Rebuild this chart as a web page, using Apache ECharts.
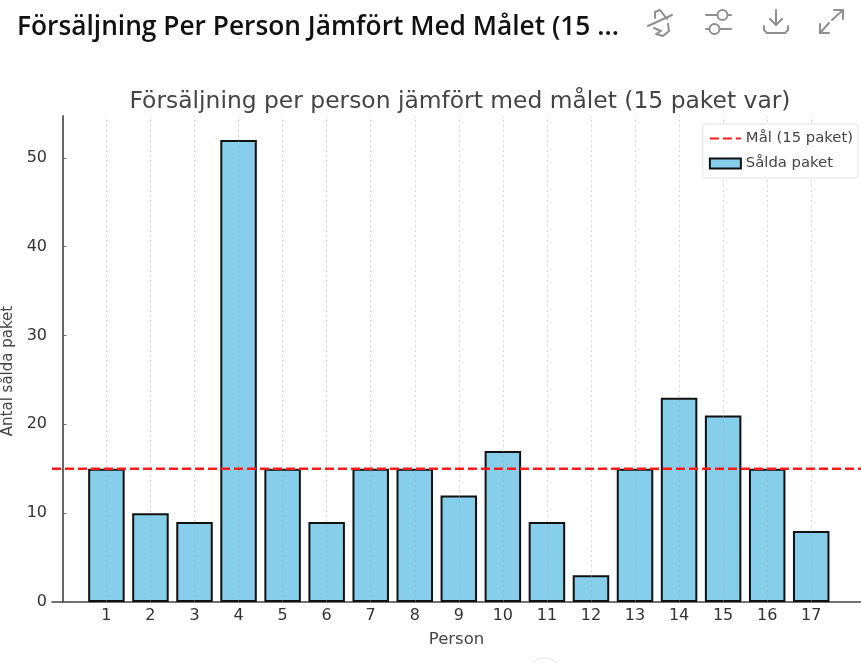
<!DOCTYPE html>
<html><head><meta charset="utf-8">
<style>html,body{margin:0;padding:0;background:#fff}#c{width:861px;height:663px}</style>
<script src="https://cdn.jsdelivr.net/npm/echarts@6/dist/echarts.min.js"></script>
</head><body><div id="c"></div>
<script>
const persons=[1,2,3,4,5,6,7,8,9,10,11,12,13,14,15,16,17];
const sold=[15,10,9,52,15,9,15,15,12,17,9,3,15,23,21,15,8];
const goal=15;
const yTicks=[0,10,20,30,40,50];
const pageTitle='Försäljning Per Person Jämfört Med Målet (15 ...';
const chartTitle='Försäljning per person jämfört med målet (15 paket var)';
const xMin=-0.235, xMax=18.13, yMax=54.7;
const F='"DejaVu Sans"';
const iconStyle={stroke:'#8f8f8f',fill:'none',lineWidth:2,lineCap:'round',lineJoin:'round'};
function pl(pts){return {type:'polyline',shape:{points:pts},style:iconStyle,silent:true};}
function ci(x,y,r){return {type:'circle',shape:{cx:x,cy:y,r:r},style:iconStyle,silent:true};}
const chart=echarts.init(document.getElementById('c'),null,{renderer:'canvas'});
chart.setOption({
 animation:false,backgroundColor:'#fff',
 title:[
  {text:pageTitle,left:12,top:10,textStyle:{fontFamily:'"Open Sans"',fontWeight:600,fontSize:26.3,color:'#111'}},
  {text:chartTitle,left:455,textAlign:'center',top:85,textStyle:{fontFamily:F,fontWeight:'normal',fontSize:23.4,color:'#444'}}
 ],
 grid:{left:52,top:116,right:0,bottom:61,outerBoundsMode:'none'},
 legend:{
  right:3,top:124,orient:'vertical',itemGap:10,itemWidth:31,itemHeight:10,padding:[7,5,7,6],
  backgroundColor:'#fff',borderColor:'#e2e2e2',borderWidth:1,borderRadius:3,
  textStyle:{fontFamily:F,fontSize:14.8,color:'#444'},
  data:[{name:'Mål (15 paket)',itemStyle:{opacity:0}},{name:'Sålda paket',icon:'rect'}]
 },
 xAxis:{type:'value',min:xMin,max:xMax,name:'Person',nameLocation:'middle',nameGap:29,
  nameTextStyle:{fontFamily:F,fontSize:16.5,color:'#444'},
  axisLine:{onZero:false,lineStyle:{color:'#444',width:1.5}},
  axisTick:{show:true,inside:true,customValues:persons,length:4,lineStyle:{color:'#666'}},
  axisLabel:{customValues:persons,fontFamily:F,fontSize:16,color:'#333',margin:6,showMinLabel:true,showMaxLabel:true},
  splitLine:{show:false}},
 yAxis:{type:'value',min:0,max:yMax,name:'Antal sålda paket',nameLocation:'middle',nameGap:31,
  nameTextStyle:{fontFamily:F,fontSize:15,color:'#444',padding:[0,24,0,0]},
  axisLine:{show:true,lineStyle:{color:'#666',width:2}},
  axisTick:{show:true,inside:true,customValues:yTicks,length:4,lineStyle:{color:'#666'}},
  axisLabel:{customValues:yTicks,fontFamily:F,fontSize:16,color:'#333',margin:5},
  splitLine:{show:false}},
 series:[
  {name:'Sålda paket',type:'bar',barWidth:36.5,z:2,
   data:persons.map((p,i)=>[p,sold[i]]),
   itemStyle:{color:'#87CEEB',borderColor:'#111',borderWidth:2},
   markLine:{silent:true,symbol:'none',label:{show:false},z:3,animation:false,
    lineStyle:{color:'rgba(150,150,150,0.4)',type:[2,3],width:1},
    data:persons.map(p=>({xAxis:p}))}},
  {name:'Mål (15 paket)',type:'line',z:5,symbol:'none',
   data:[[xMin,goal],[xMax,goal]],
   lineStyle:{color:'#FF1A1A',type:[9,4],width:2.6},itemStyle:{color:'#FF1A1A'}}
 ],
 graphic:[
  pl([[648,26],[672,15]]),pl([[655,18],[655,12],[660,10],[667,19]]),
  pl([[654,28],[661,31],[656,34],[663,36],[669,31],[668,24]]),
  pl([[706,15],[717,15]]),pl([[728,15],[731,15]]),pl([[706,29],[709,29]]),pl([[720,29],[731,29]]),
  ci(722.5,15,5),ci(714.5,29,5),
  pl([[776,10],[776,25]]),pl([[770,19],[776,25],[782,19]]),pl([[764,26],[764,30],[767,33],[785,33],[788,30],[788,26]]),
  pl([[832,20],[843,10]]),pl([[834,10],[843,10],[843,19]]),pl([[829,23],[820,33]]),pl([[820,24],[820,33],[829,33]]),
  {type:'circle',shape:{cx:545,cy:676,r:18},style:{fill:'#fff',stroke:'#e4e4e4',lineWidth:1},silent:true}
 ]
});
</script></body></html>
